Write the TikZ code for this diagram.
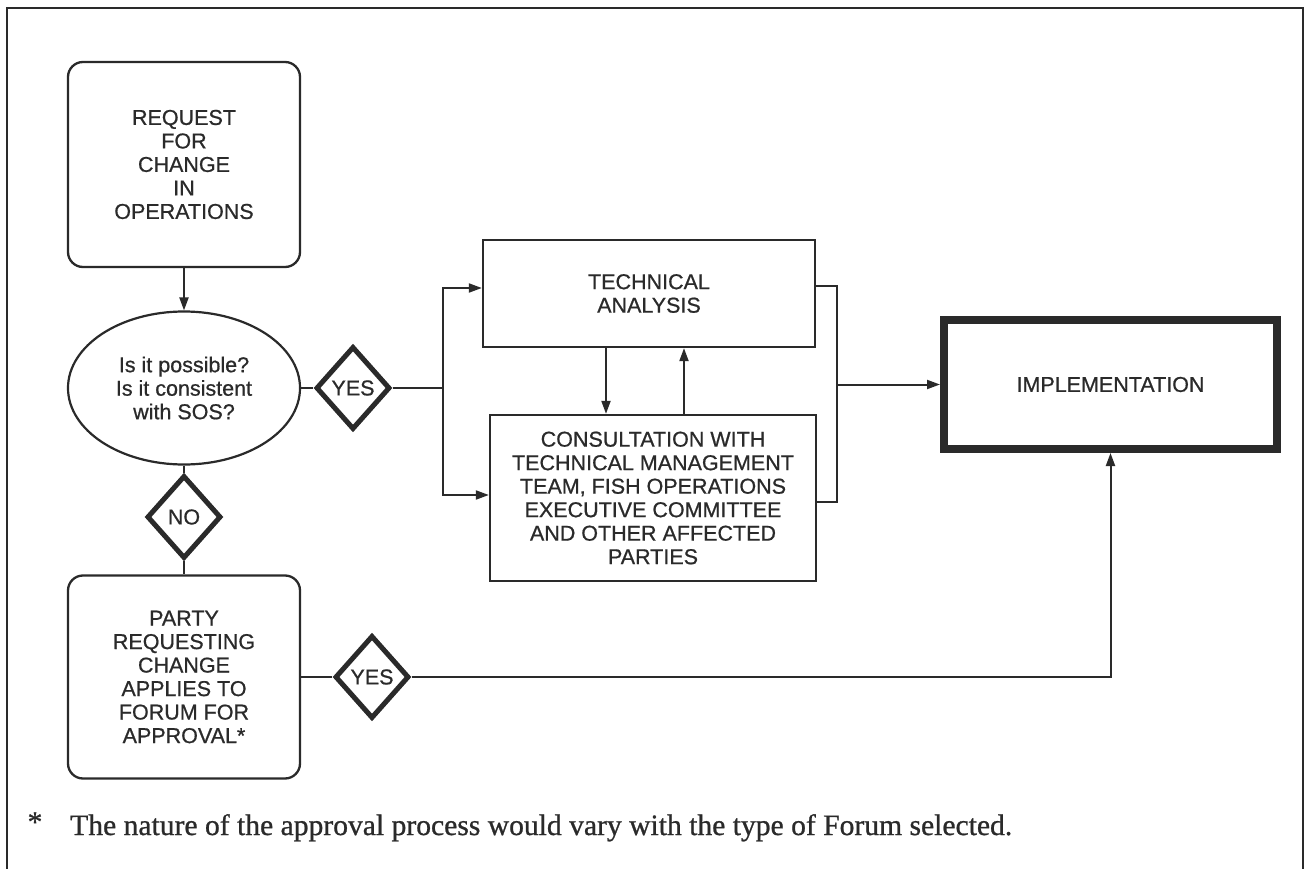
\documentclass[tikz,border=0pt]{standalone}
\usepackage{fontspec}
\setmainfont{Liberation Serif}
\setsansfont{Liberation Sans}[FakeBold=0.7]
\newfontfamily\notefamily{Liberation Serif}[FakeBold=0.8]
\usetikzlibrary{shapes.geometric,arrows.meta}
\definecolor{ink}{HTML}{2A2A2A}
\newcommand{\boxfont}{\sffamily\fontsize{21.5pt}{23.5pt}\selectfont}
\newcommand{\notefont}{\notefamily\fontsize{29.6pt}{32pt}\selectfont}
\tikzset{
  every node/.style={font=\boxfont, text=ink},
  rbox/.style={draw=ink, line width=2.3pt, rounded corners=15pt, align=center,
    minimum width=232pt, minimum height=205pt, inner sep=0pt},
  sbox/.style={draw=ink, line width=2.3pt, align=center, inner sep=0pt},
  query/.style={ellipse, draw=ink, line width=2.2pt, align=center,
    minimum width=232pt, minimum height=153pt, inner sep=0pt},
  decide/.style={diamond, draw=ink, line width=5pt, minimum width=74pt,
    minimum height=83pt, inner sep=0pt},
  goal/.style={draw=ink, line width=8pt, minimum width=333pt,
    minimum height=129pt, outer sep=4pt},
  link/.style={draw=ink, line width=2pt},
  arr/.style={link, -{Triangle[length=13pt,width=9pt]}},
}
\begin{document}
\begin{tikzpicture}[x=1pt, y=-1pt]
\useasboundingbox[fill=white] (0,0) rectangle (1307,869);

% page frame (open at the bottom)
\draw[ink, line width=2pt] (7,869) -- (7,8) -- (1303,8) -- (1303,869);

% left column
\node[rbox] (req) at (184,164.5) {REQUEST\\FOR\\CHANGE\\IN\\OPERATIONS};
\node[query] (ask) at (184,388) {Is it possible?\\Is it consistent\\with SOS?};
\node[decide] (no) at (184,517) {NO};
\node[rbox, minimum height=203pt] (party) at (184,677)
  {PARTY\\REQUESTING\\CHANGE\\APPLIES TO\\FORUM FOR\\APPROVAL*};

% yes branches
\node[decide] (yes1) at (353,388) {YES};
\node[decide] (yes2) at (372,677) {YES};

% centre boxes
\node[sbox, minimum width=332pt, minimum height=107pt] (ta) at (649,293.5)
  {TECHNICAL\\ANALYSIS};
\node[sbox, minimum width=326pt, minimum height=166pt] (cons) at (653,498)
  {CONSULTATION WITH\\TECHNICAL MANAGEMENT\\TEAM, FISH OPERATIONS\\EXECUTIVE COMMITTEE\\AND OTHER AFFECTED\\PARTIES};

% goal
\node[goal] (impl) at (1110.5,384.5) {IMPLEMENTATION};

% junction points
\coordinate (split) at (443,388);
\coordinate (merge) at (837,384.5);

% connectors
\draw[arr] (req) -- (ask);
\draw[link] (ask) -- (no);
\draw[link] (no) -- (party);
\draw[link] (ask) -- (yes1);
\draw[link] (yes1) -- (split);
\draw[arr] (split) |- ([yshift=5.5pt]ta.west);
\draw[arr] (split) |- ([yshift=3pt]cons.west);
\draw[arr] ([xshift=-43pt]ta.south) -- ([xshift=-43pt]ta.south |- cons.north);
\draw[arr] ([xshift=35pt]ta.south |- cons.north) -- ([xshift=35pt]ta.south);
\draw[link] ([yshift=7.5pt]ta.east) -| (merge) |- ([yshift=-4pt]cons.east);
\draw[arr] (merge) -- (impl);
\draw[link] (party) -- (yes2);
\draw[arr] (yes2) -| (impl.south);

% footnote
\node[font=\notefont] (star) at (35,822) {*};
\node[font=\notefont, anchor=base west, inner sep=0pt] (note) at (70,835)
  {The nature of the approval process would vary with the type of Forum selected.};
\end{tikzpicture}
\end{document}
